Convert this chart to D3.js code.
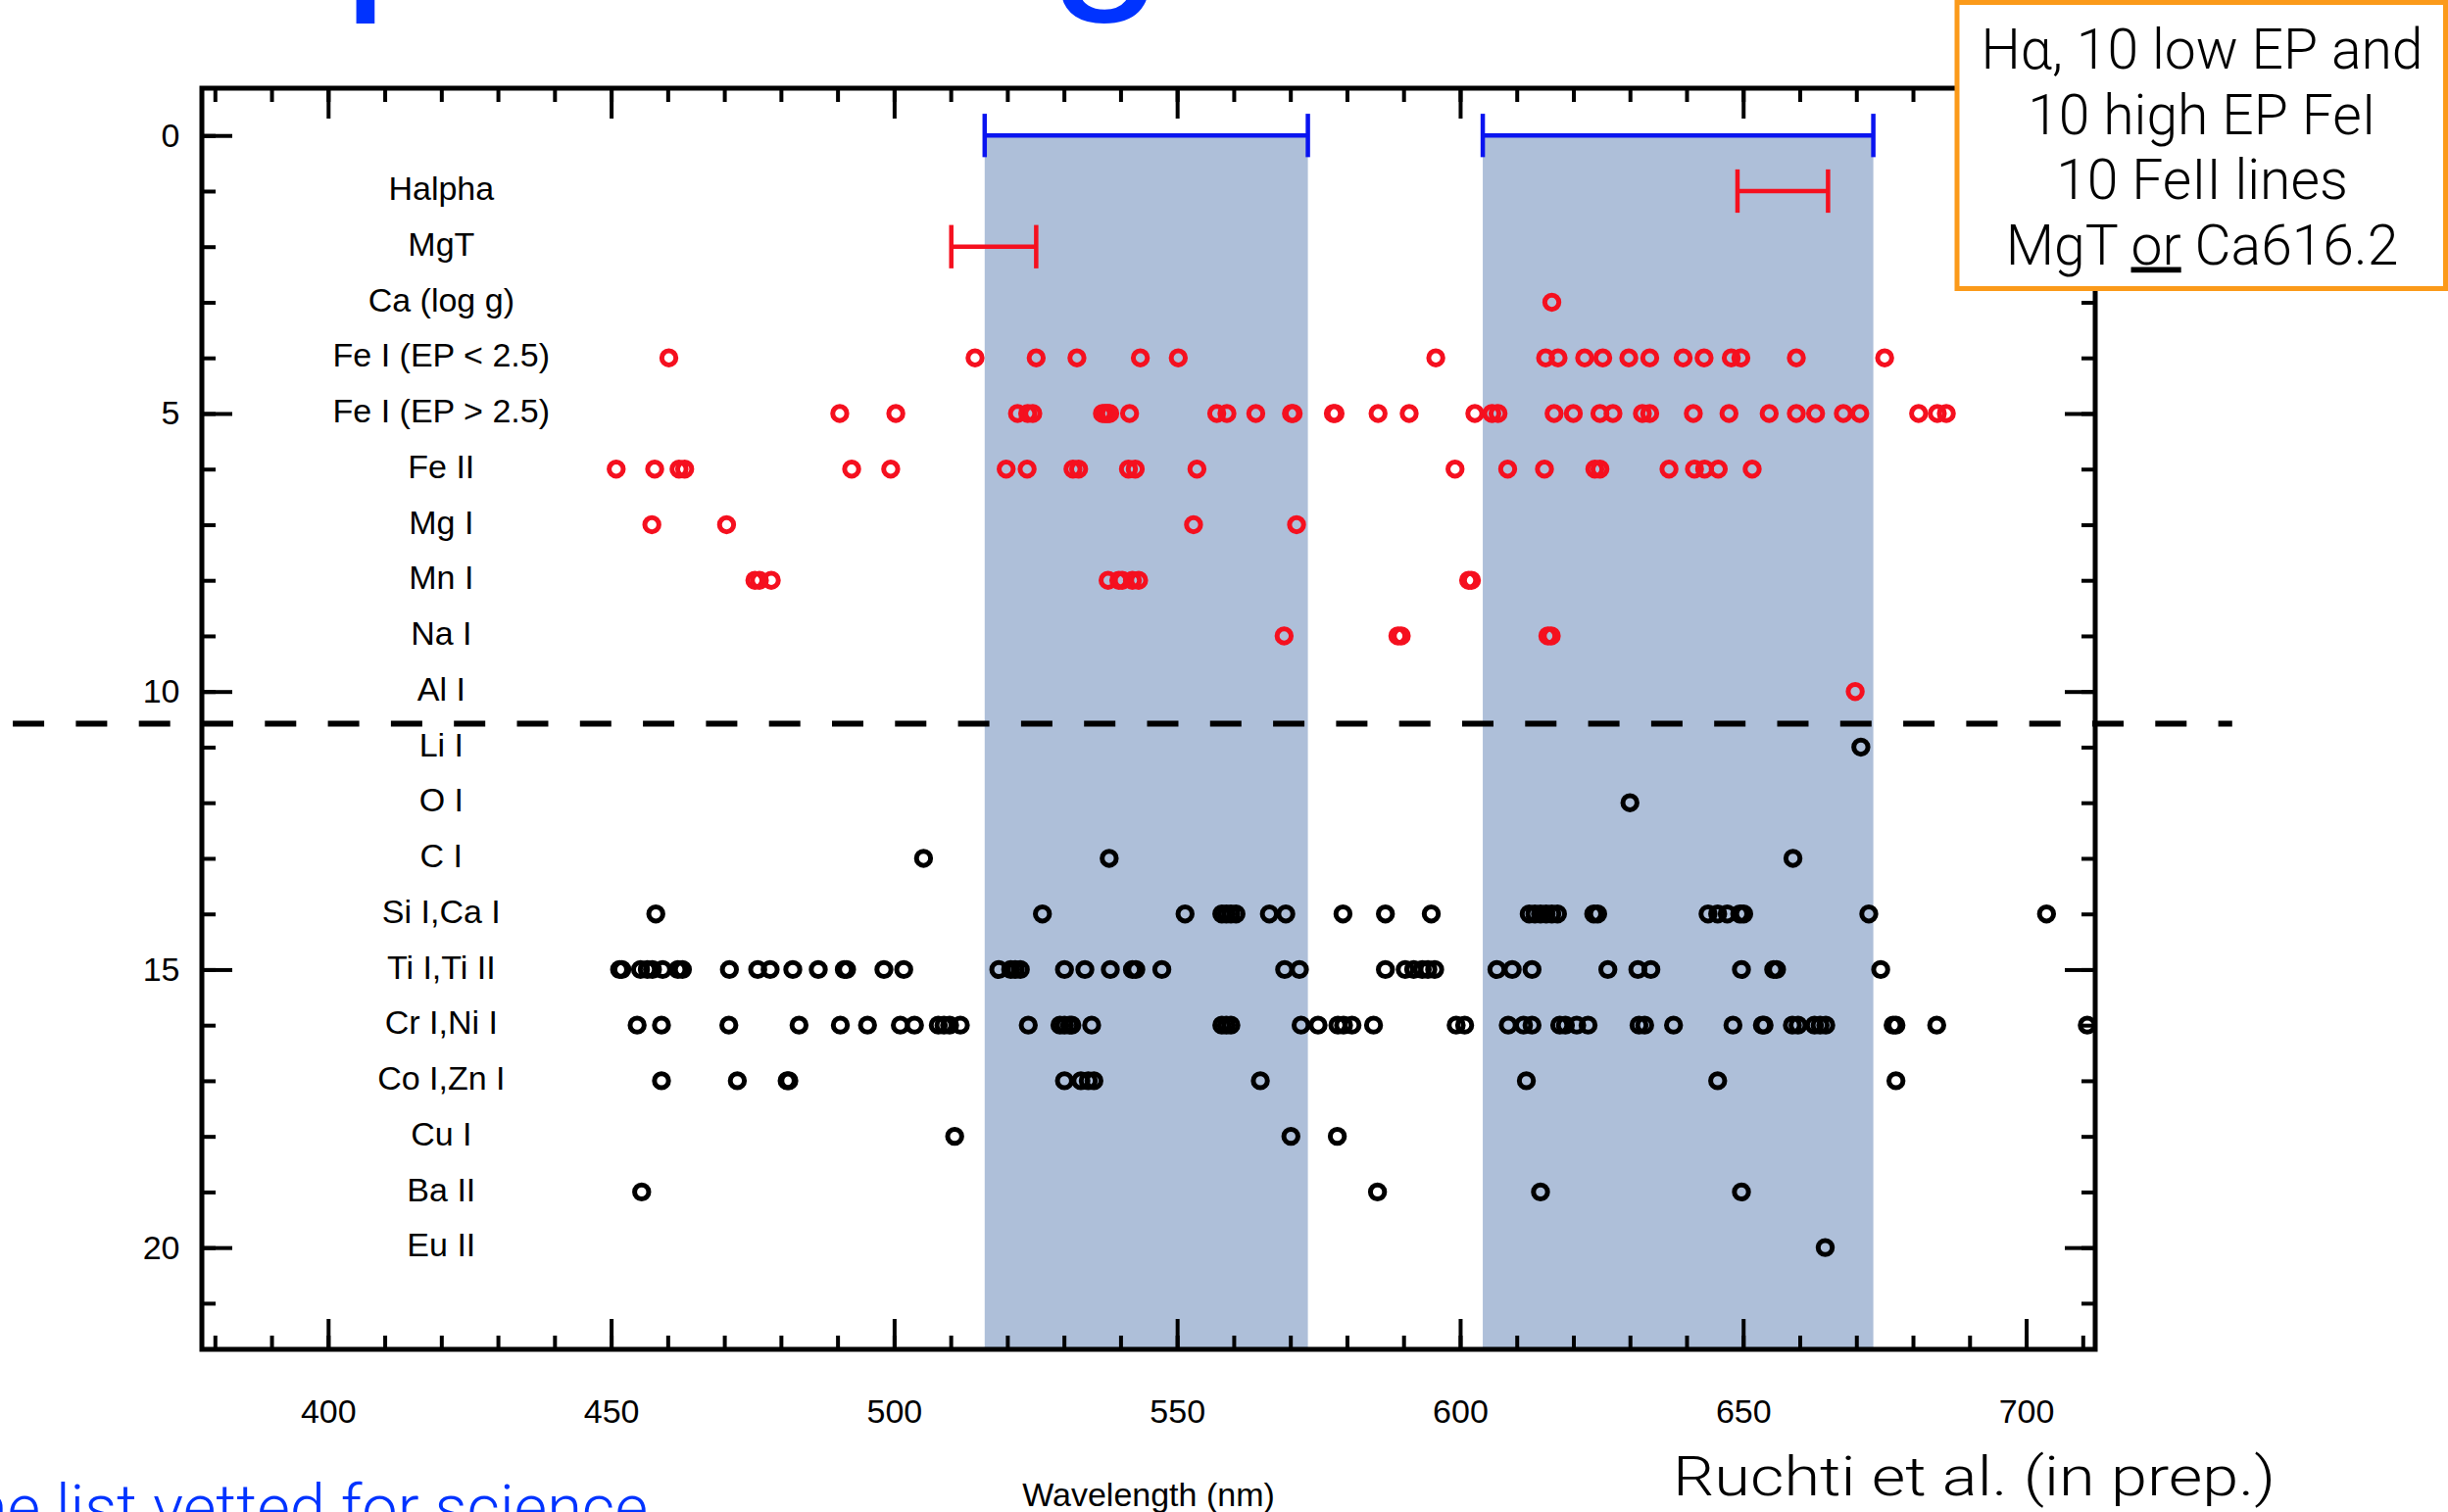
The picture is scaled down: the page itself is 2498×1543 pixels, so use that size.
<!DOCTYPE html>
<html>
<head>
<meta charset="utf-8">
<script src="https://cdn.jsdelivr.net/npm/d3@7"></script>
<style>
body { margin: 0; background: #fff; overflow: hidden; }
svg { display: block; }
.ax path { display: none; }
.ax line { stroke: #000; stroke-width: 4; }
.ax text { font-family: "Liberation Sans", Arial, sans-serif; font-size: 34px; fill: #000; }
</style>
</head>
<body>
<svg id="chart" width="2498" height="1543"></svg>
<script>
// y rows, top to bottom (row n sits at y = n)
const rowLabels = ["Halpha", "MgT", "Ca (log g)", "Fe I (EP < 2.5)", "Fe I (EP > 2.5)", "Fe II",
  "Mg I", "Mn I", "Na I", "Al I", "Li I", "O I", "C I", "Si I,Ca I", "Ti I,Ti II",
  "Cr I,Ni I", "Co I,Zn I", "Cu I", "Ba II", "Eu II"];

// wavelengths (nm) of the lines in each row
const halpha = [];
const mgT = [];
const caLogg = [616.2];
const feILow = [460.2, 514.3, 525.1, 532.3, 543.5, 550.2, 595.7, 615.1, 617.3, 622.0, 625.2, 629.8,
  633.5, 639.4, 643.1, 647.9, 649.6, 659.4, 675.0];
const feIHigh = [490.4, 500.3, 521.8, 523.6, 524.5, 536.8, 537.2, 537.5, 537.8, 538.1, 541.6, 557.0,
  558.8, 563.9, 570.2, 570.5, 577.6, 577.9, 585.5, 591.0, 602.6, 605.6, 606.7, 616.6, 620.0, 624.7,
  627.0, 632.2, 633.5, 641.2, 647.5, 654.6, 659.4, 662.8, 667.7, 670.6, 681.0, 684.3, 685.9];
const feII = [450.9, 457.7, 462.0, 463.0, 492.5, 499.4, 519.8, 523.5, 531.6, 532.6, 541.4, 542.6,
  553.5, 599.1, 608.4, 614.9, 623.8, 624.7, 636.9, 641.4, 643.2, 645.6, 651.6];
const mgI = [457.2, 470.4, 552.9, 571.1];
const mnI = [475.4, 476.2, 478.3, 537.8, 539.7, 540.3, 542.1, 543.2, 601.5, 602.0];
const naI = [568.9, 589.0, 589.6, 615.5, 616.1];
const alI = [669.8];
const liI = [670.8];
const oI = [630.0];
const cI = [505.2, 538.0, 658.8];
const siCa = [457.9, 526.2, 551.4, 557.9, 558.7, 559.5, 560.4, 566.3, 569.2, 579.3, 586.8, 594.9,
  612.2, 613.2, 614.2, 615.2, 616.2, 617.2, 623.6, 624.3, 643.8, 645.5, 647.2, 649.4, 650.1, 672.2, 703.6];
const tiTi = [451.5, 451.9, 455.2, 456.4, 457.3, 459.1, 461.8, 462.6, 470.9, 475.9, 478.1, 482.1,
  486.6, 491.2, 491.6, 498.2, 501.7, 518.5, 520.6, 521.4, 522.3, 530.1, 533.7, 538.2, 542.1, 542.7,
  547.3, 569.0, 571.6, 586.8, 590.3, 591.8, 593.3, 594.3, 595.5, 606.5, 609.2, 612.7, 626.1, 631.4,
  633.7, 649.7, 655.4, 655.9, 674.3];
const crNi = [454.6, 458.9, 470.8, 483.2, 490.5, 495.3, 501.1, 503.6, 507.8, 508.8, 509.8, 511.7,
  523.7, 529.3, 530.1, 531.0, 531.4, 534.9, 557.9, 558.7, 559.5, 571.9, 574.9, 578.4, 579.4, 580.9,
  584.7, 599.3, 600.8, 608.5, 611.2, 612.7, 617.6, 618.6, 620.6, 622.6, 631.6, 632.6, 637.7, 648.2,
  653.4, 653.7, 658.7, 659.7, 662.6, 663.6, 664.6, 676.5, 677.0, 684.2, 710.8];
const coZn = [458.9, 472.3, 481.1, 481.4, 530.1, 533.0, 534.3, 535.3, 564.7, 611.7, 645.5, 677.0];
const cuI = [510.7, 570.1, 578.3];
const baII = [455.4, 585.4, 614.2, 649.7];
const euII = [664.5];

const rowLines = [halpha, mgT, caLogg, feILow, feIHigh, feII, mgI, mnI, naI, alI,
  liI, oI, cI, siCa, tiTi, crNi, coZn, cuI, baII, euII];

// wavelength windows (row 0, blue) and the Halpha / MgT windows (red)
const bands = [[516.0, 573.1], [604.0, 673.0]];
const redBars = [{ row: 1, lo: 649.0, hi: 665.0 }, { row: 2, lo: 510.1, hi: 525.1 }];
const splitRow = 10.58;
const splitSpan = [344.3, 736.4];

// ticks
const xMinor = [380, 390, 400, 410, 420, 430, 440, 450, 460, 470, 480, 490, 500, 510, 520, 530, 540,
  550, 560, 570, 580, 590, 600, 610, 620, 630, 640, 650, 660, 670, 680, 690, 700, 710];
const xMajor = [400, 450, 500, 550, 600, 650, 700];
const yMinor = [0, 1, 2, 3, 4, 5, 6, 7, 8, 9, 10, 11, 12, 13, 14, 15, 16, 17, 18, 19, 20, 21];
const yMajor = [0, 5, 10, 15, 20];

const boxLines = ["Hα, 10 low EP and", "10 high EP FeI", "10 FeII lines"];

const red = "#f5101f", blue = "#0a14f0", band = "#aebfd9", orange = "#fb9a1a", slideBlue = "#0033ff";
const sans = "'Liberation Sans', Arial, sans-serif";
const light = "Roboto, 'Open Sans', 'Liberation Sans', sans-serif";

const svg = d3.select("#chart");
const x = d3.scaleLinear().domain([377.7, 712.2]).range([206, 2138]);
const y = d3.scaleLinear().domain([-0.85, 21.83]).range([90, 1377]);

// slide title, only its descenders show at the top edge
const title = svg.append("text")
  .attr("font-family", sans).attr("font-size", 200).attr("fill", slideBlue)
  .attr("x", 0).attr("y", -20)
  .text("Optimising the line list");
let pe = title.node().getExtentOfChar(1), ge = title.node().getExtentOfChar(9);
let fs = 200 * 766 / ((ge.x + ge.width / 2) - (pe.x + 0.065 * 200));
title.attr("font-size", fs);
pe = title.node().getExtentOfChar(1);
title.attr("x", 363 - 0.065 * fs - pe.x).attr("y", 25 - 0.21 * fs);

// shaded windows
svg.append("g").selectAll("rect")
  .data(bands).enter()
  .append("rect")
  .attr("x", d => x(d[0]))
  .attr("width", d => x(d[1]) - x(d[0]))
  .attr("y", y(0))
  .attr("height", y.range()[1] - y(0))
  .attr("fill", band);

// range bars with end caps
function rangeBar(g, lo, hi, row, color) {
  g.append("line").attr("x1", x(lo)).attr("x2", x(hi)).attr("y1", y(row)).attr("y2", y(row));
  [lo, hi].forEach(v => {
    g.append("line").attr("x1", x(v)).attr("x2", x(v))
      .attr("y1", y(row - 0.39)).attr("y2", y(row + 0.39));
  });
  g.attr("stroke", color).attr("stroke-width", 4.5);
}
bands.forEach(b => rangeBar(svg.append("g"), b[0], b[1], 0, blue));
redBars.forEach(b => rangeBar(svg.append("g"), b.lo, b.hi, b.row, red));

// line markers
const pts = [];
rowLines.forEach((arr, i) => arr.forEach(w => pts.push({ w: w, row: i + 1 })));
svg.append("g").selectAll("circle")
  .data(pts).enter()
  .append("circle")
  .attr("cx", d => x(d.w))
  .attr("cy", d => y(d.row))
  .attr("r", 7.2)
  .attr("fill", "none")
  .attr("stroke", d => d.row <= 10 ? red : "#000")
  .attr("stroke-width", 5);

// row names
svg.append("g").selectAll("text")
  .data(rowLabels).enter()
  .append("text")
  .attr("x", x(420))
  .attr("y", (d, i) => y(i + 1))
  .attr("dy", "0.27em")
  .attr("text-anchor", "middle")
  .attr("font-family", sans).attr("font-size", 34)
  .text(d => d);

// separator between the red and black groups
svg.append("line")
  .attr("x1", x(splitSpan[0])).attr("x2", x(splitSpan[1]))
  .attr("y1", y(splitRow)).attr("y2", y(splitRow))
  .attr("stroke", "#000").attr("stroke-width", 6)
  .attr("stroke-dasharray", "32,32.3");

// frame
svg.append("rect")
  .attr("x", x.range()[0]).attr("y", y.range()[0])
  .attr("width", x.range()[1] - x.range()[0])
  .attr("height", y.range()[1] - y.range()[0])
  .attr("fill", "none").attr("stroke", "#000").attr("stroke-width", 5);

// axes (ticks point inward)
const yb = y.range()[1], yt = y.range()[0], xl = x.range()[0], xr = x.range()[1];
svg.append("g").attr("class", "ax").attr("transform", `translate(0,${yb})`)
  .call(d3.axisBottom(x).tickValues(xMinor).tickSize(-14).tickFormat(""));
svg.append("g").attr("class", "ax").attr("transform", `translate(0,${yb})`)
  .call(d3.axisBottom(x).tickValues(xMajor).tickSize(-31).tickPadding(51).tickFormat(d3.format("d")));
svg.append("g").attr("class", "ax").attr("transform", `translate(0,${yt})`)
  .call(d3.axisTop(x).tickValues(xMinor).tickSize(-14).tickFormat(""));
svg.append("g").attr("class", "ax").attr("transform", `translate(0,${yt})`)
  .call(d3.axisTop(x).tickValues(xMajor).tickSize(-31).tickFormat(""));
svg.append("g").attr("class", "ax").attr("transform", `translate(${xl},0)`)
  .call(d3.axisLeft(y).tickValues(yMinor).tickSize(-14).tickFormat(""));
svg.append("g").attr("class", "ax").attr("transform", `translate(${xl},0)`)
  .call(d3.axisLeft(y).tickValues(yMajor).tickSize(-31).tickPadding(22.5).tickFormat(d3.format("d")));
svg.append("g").attr("class", "ax").attr("transform", `translate(${xr},0)`)
  .call(d3.axisRight(y).tickValues(yMinor).tickSize(-14).tickFormat(""));
svg.append("g").attr("class", "ax").attr("transform", `translate(${xr},0)`)
  .call(d3.axisRight(y).tickValues(yMajor).tickSize(-31).tickFormat(""));

svg.append("text")
  .attr("x", (xl + xr) / 2).attr("y", 1537)
  .attr("text-anchor", "middle")
  .attr("font-family", sans).attr("font-size", 34)
  .text("Wavelength (nm)");

// orange note box
svg.append("rect")
  .attr("x", 1997).attr("y", 2.5).attr("width", 498.5).attr("height", 292)
  .attr("fill", "#fff").attr("stroke", orange).attr("stroke-width", 5);
const note = svg.append("g")
  .attr("font-family", light).attr("font-weight", 300).attr("font-size", 57)
  .attr("text-anchor", "middle");
boxLines.forEach((t, i) => {
  note.append("text").attr("x", 2247).attr("y", 70 + i * 66.5).text(t);
});
const last = note.append("text").attr("x", 2247).attr("y", 70 + 3 * 66.5);
last.append("tspan").text("MgT ");
last.append("tspan").style("text-decoration", "underline").text("or");
last.append("tspan").text(" Ca616.2");

// citation and slide footer
svg.append("text")
  .attr("x", 1707).attr("y", 1526)
  .attr("font-family", light).attr("font-weight", 300).attr("font-size", 56)
  .attr("textLength", 615).attr("lengthAdjust", "spacingAndGlyphs")
  .text("Ruchti et al. (in prep.)");

svg.append("text")
  .attr("x", 661).attr("y", 1561)
  .attr("text-anchor", "end")
  .attr("font-family", light).attr("font-weight", 300).attr("font-size", 65)
  .attr("fill", slideBlue)
  .text("line list vetted for science");
</script>
</body>
</html>
